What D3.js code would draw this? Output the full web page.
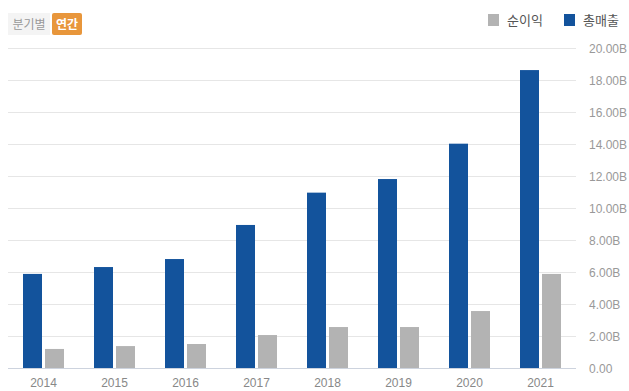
<!DOCTYPE html>
<html>
<head>
<meta charset="utf-8">
<script src="https://cdn.jsdelivr.net/npm/d3@7"></script>
<style>
  body { margin: 0; background: #fff; }
  svg { display: block; font-family: "Liberation Sans", Arial, "Noto Sans CJK KR", sans-serif; }
</style>
</head>
<body>
<svg id="mySvg"></svg>
<script>
const years = ["2014", "2015", "2016", "2017", "2018", "2019", "2020", "2021"];
const revenue = [5.88, 6.31, 6.81, 8.94, 10.96, 11.81, 14.02, 18.62];
const netIncome = [1.19, 1.37, 1.5, 2.06, 2.56, 2.56, 3.56, 5.88];
const yTicks = [0, 2, 4, 6, 8, 10, 12, 14, 16, 18, 20];
const legendLabels = ["순이익", "총매출"];

const width = 629;
const height = 391;
const blue = "#13539c";
const gray = "#b3b3b3";

const svg = d3.select("#mySvg").attr("width", width).attr("height", height);

const xScale = d3.scaleBand().domain(years).range([8, 576]);
const yScale = d3.scaleLinear().domain([0, 20]).range([368, 48]);

// gridlines
svg.append("g")
  .selectAll("line")
  .data(yTicks)
  .enter()
  .append("line")
  .attr("x1", 8)
  .attr("x2", 576)
  .attr("y1", (d) => Math.round(yScale(d)) + 0.5)
  .attr("y2", (d) => Math.round(yScale(d)) + 0.5)
  .attr("stroke", (d) => d === 0 ? "#cdd3de" : "#e6e6e6")
  .attr("stroke-width", 1);

// y labels on the right
svg.append("g")
  .selectAll("text")
  .data(yTicks)
  .enter()
  .append("text")
  .attr("x", 589)
  .attr("y", (d) => yScale(d) + 4.5)
  .attr("font-size", "12px")
  .attr("fill", "#999")
  .text((d) => d === 0 ? "0.00" : d.toFixed(2) + "B");

const barW = 19;

svg.append("g")
  .selectAll("rect")
  .data(years)
  .enter()
  .append("rect")
  .attr("x", (d) => xScale(d) + 15)
  .attr("y", (d, i) => yScale(revenue[i]))
  .attr("width", barW)
  .attr("height", (d, i) => yScale(0) - yScale(revenue[i]))
  .attr("fill", blue);

svg.append("g")
  .selectAll("rect")
  .data(years)
  .enter()
  .append("rect")
  .attr("x", (d) => xScale(d) + 15 + barW + 3)
  .attr("y", (d, i) => yScale(netIncome[i]))
  .attr("width", barW)
  .attr("height", (d, i) => yScale(0) - yScale(netIncome[i]))
  .attr("fill", gray);

// x labels
svg.append("g")
  .selectAll("text")
  .data(years)
  .enter()
  .append("text")
  .attr("x", (d) => xScale(d) + xScale.bandwidth() / 2)
  .attr("y", 387)
  .attr("text-anchor", "middle")
  .attr("font-size", "12px")
  .attr("fill", "#888")
  .text((d) => d);

// toggle buttons
svg.append("rect").attr("x", 8).attr("y", 13).attr("width", 42).attr("height", 22).attr("fill", "#f4f4f4");
svg.append("text").attr("x", 29).attr("y", 28.5).attr("text-anchor", "middle")
  .attr("font-size", "12px").attr("fill", "#999").attr("font-family", "Noto Sans CJK KR").text("분기별");
svg.append("rect").attr("x", 52).attr("y", 13).attr("width", 30).attr("height", 22).attr("rx", 2).attr("fill", "#e8963b");
svg.append("text").attr("x", 67).attr("y", 28.5).attr("text-anchor", "middle")
  .attr("font-size", "12px").attr("font-weight", "bold").attr("fill", "#fff").attr("font-family", "Noto Sans CJK KR").text("연간");

// legend
const legend = svg.append("g")
  .selectAll("g")
  .data(legendLabels)
  .enter()
  .append("g")
  .attr("transform", (d, i) => `translate(${i === 0 ? 488 : 564}, 14)`);
legend.append("rect").attr("width", 11).attr("height", 12).attr("fill", (d, i) => i === 0 ? gray : blue);
legend.append("text").attr("x", 19).attr("y", 11)
  .attr("font-size", "13px").attr("fill", "#555").attr("font-family", "Noto Sans CJK KR")
  .text((d) => d);
</script>
</body>
</html>
